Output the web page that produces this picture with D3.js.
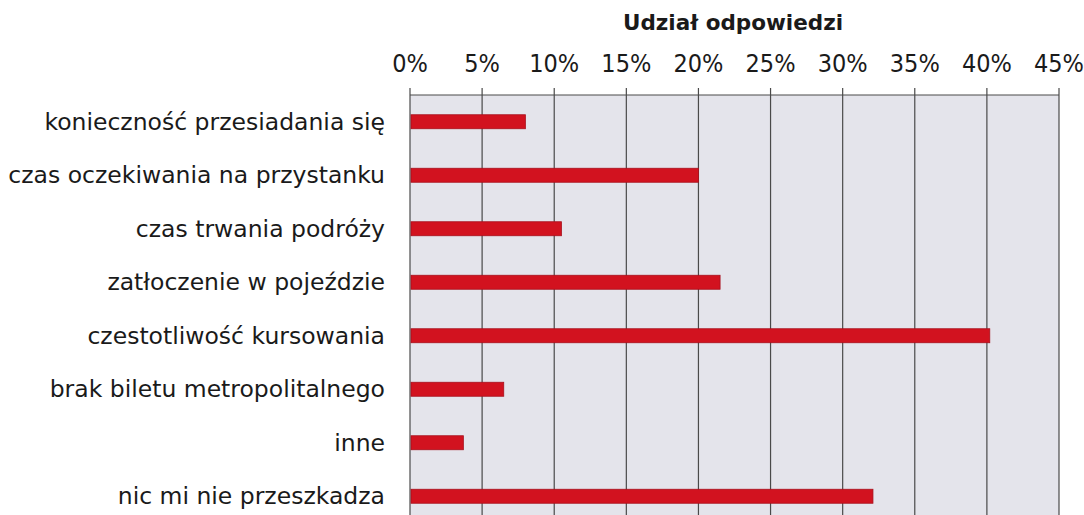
<!DOCTYPE html>
<html>
<head>
<meta charset="utf-8">
<script src="https://cdn.jsdelivr.net/npm/d3@7"></script>
<style>
  html, body { margin: 0; padding: 0; background: #fff; }
  svg { display: block; }
</style>
</head>
<body>
<svg id="chart" width="1084" height="515"></svg>
<script>
const categories = [
  "konieczność przesiadania się",
  "czas oczekiwania na przystanku",
  "czas trwania podróży",
  "zatłoczenie w pojeździe",
  "czestotliwość kursowania",
  "brak biletu metropolitalnego",
  "inne",
  "nic mi nie przeszkadza"
];
const shares = [8.0, 20.0, 10.5, 21.5, 40.2, 6.5, 3.7, 32.1];
const tickValues = [0, 5, 10, 15, 20, 25, 30, 35, 40, 45];
const axisTitle = "Udział odpowiedzi";

const svg = d3.select("#chart");
const w = 1084, h = 515;
const m = { t: 95, l: 410, r: 25 };
const plotBottom = 523;

const x = d3.scaleLinear().domain([0, 45]).range([m.l, w - m.r]);
const y = d3.scaleBand().domain(categories).range([m.t, plotBottom]);

// plot background
svg.append("rect")
  .attr("x", x(0)).attr("y", m.t)
  .attr("width", x(45) - x(0)).attr("height", plotBottom - m.t)
  .attr("fill", "#e4e4eb");

// gridlines + ticks above
svg.append("g")
  .selectAll("line").data(tickValues).join("line")
  .attr("x1", d => x(d)).attr("x2", d => x(d))
  .attr("y1", m.t - 7).attr("y2", plotBottom)
  .attr("stroke", "#4a4a4a").attr("stroke-width", 1.2);

// top border
svg.append("line")
  .attr("x1", x(0)).attr("x2", x(45))
  .attr("y1", m.t).attr("y2", m.t)
  .attr("stroke", "#4a4a4a").attr("stroke-width", 1.2);

// tick labels
svg.append("g")
  .selectAll("text").data(tickValues).join("text")
  .attr("x", d => x(d)).attr("y", 72)
  .attr("text-anchor", "middle")
  .attr("fill", "#1a1a1a")
  .style("font-family", "'Liberation Sans Narrow', 'DejaVu Sans Condensed', sans-serif")
  .style("font-size", "25px")
  .text(d => d + "%");

// axis title
svg.append("text")
  .attr("x", 733).attr("y", 30)
  .attr("text-anchor", "middle")
  .attr("fill", "#1a1a1a")
  .style("font-family", "'DejaVu Sans', sans-serif")
  .style("font-size", "21.5px").style("font-weight", "bold")
  .text(axisTitle);

// bars
const barH = 14;
svg.append("g")
  .selectAll("rect").data(categories).join("rect")
  .attr("x", x(0) + 1)
  .attr("y", d => y(d) + y.bandwidth() / 2 - barH / 2)
  .attr("width", (d, i) => x(shares[i]) - x(0) - 1)
  .attr("height", barH)
  .attr("fill", "#d2121f")
  .attr("stroke", "#a8101c").attr("stroke-width", 0.8);

// category labels
svg.append("g")
  .selectAll("text").data(categories).join("text")
  .attr("x", 385)
  .attr("y", d => y(d) + y.bandwidth() / 2)
  .attr("dy", "0.35em")
  .attr("text-anchor", "end")
  .attr("fill", "#1a1a1a")
  .style("font-family", "'DejaVu Sans', sans-serif")
  .style("font-size", "23.5px")
  .text(d => d);
</script>
</body>
</html>
